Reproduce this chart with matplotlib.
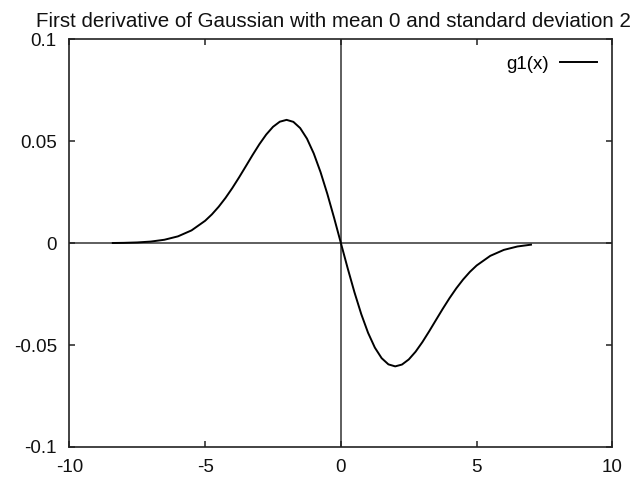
import matplotlib
matplotlib.use("Agg")
import matplotlib.pyplot as plt

# g1(x) samples, first derivative of a Gaussian (mean 0, sigma 2)
xs = [-8.4, -8.0, -7.5, -7.0, -6.5, -6.0, -5.5, -5.0, -4.75, -4.5, -4.25,
      -4.0, -3.75, -3.5, -3.25, -3.0, -2.75, -2.5, -2.25, -2.0, -1.75,
      -1.5, -1.25, -1.0, -0.75, -0.5, -0.25, 0.0, 0.25, 0.5, 0.75, 1.0,
      1.25, 1.5, 1.75, 2.0, 2.25, 2.5, 2.75, 3.0, 3.25, 3.5, 3.75, 4.0,
      4.25, 4.5, 4.75, 5.0, 5.5, 6.0, 6.5, 7.0]
ys = [0.00006, 0.00013, 0.00033, 0.00076, 0.00165, 0.00332, 0.00625,
      0.01096, 0.01411, 0.01786, 0.02217, 0.02700, 0.03225, 0.03775,
      0.04329, 0.04858, 0.05329, 0.05708, 0.05959, 0.06049, 0.05951,
      0.05646, 0.05128, 0.04401, 0.03486, 0.02417, 0.01237, 0.0,
      -0.01237, -0.02417, -0.03486, -0.04401, -0.05128, -0.05646,
      -0.05951, -0.06049, -0.05959, -0.05708, -0.05329, -0.04858,
      -0.04329, -0.03775, -0.03225, -0.02700, -0.02217, -0.01786,
      -0.01411, -0.01096, -0.00625, -0.00332, -0.00165, -0.00076]

xticks = [-10, -5, 0, 5, 10]
xlabels = ["-10", "-5", "0", "5", "10"]
yticks = [-0.1, -0.05, 0, 0.05, 0.1]
ylabels = ["-0.1", "-0.05", "0", "0.05", "0.1"]

plt.rcParams["font.family"] = ["Liberation Sans", "DejaVu Sans"]

fig = plt.figure(figsize=(6.42, 4.8), dpi=100)
ax = fig.add_axes([0.108, 0.069, 0.846, 0.849])

# zero axes
ax.axhline(0, color="#333333", lw=1.1, zorder=1)
ax.axvline(0, color="#333333", lw=1.1, zorder=1)

ax.plot(xs, ys, color="black", lw=1.4, label="g1(x)", zorder=2)

ax.set_xlim(-10, 10)
ax.set_ylim(-0.1, 0.1)
ax.set_xticks(xticks)
ax.set_xticklabels(xlabels)
ax.set_yticks(yticks)
ax.set_yticklabels(ylabels)
ax.tick_params(direction="in", length=4.5, width=1.1, top=True, right=True,
               labelsize=13.5, color="#222222", labelcolor="#111111")
ax.tick_params(axis="y", pad=9)
ax.tick_params(axis="x", pad=9)
for s in ax.spines.values():
    s.set_linewidth(1.2)
    s.set_color("#222222")

ax.set_title("First derivative of Gaussian with mean 0 and standard deviation 2",
             fontsize=14.8, x=0.486, pad=9, color="#111111")

ax.legend(loc="center right", bbox_to_anchor=(0.972, 0.939), frameon=False,
          markerfirst=False, fontsize=13.5, handlelength=2.0,
          handletextpad=0.6, borderpad=0, borderaxespad=0)

fig.savefig("out.png", dpi=100)
